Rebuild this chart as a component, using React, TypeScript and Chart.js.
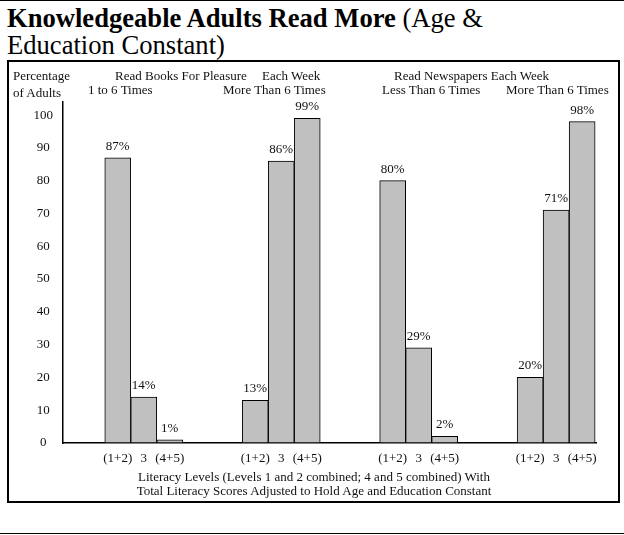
import { useEffect, useRef } from 'react';
import { Chart, registerables } from 'chart.js';

Chart.register(...registerables);

// Reading-frequency groups (x positions 0..3)
const groups = [
  'Books 1 to 6 Times',
  'Books More Than 6 Times',
  'Newspapers Less Than 6 Times',
  'Newspapers More Than 6 Times',
];
// Literacy level labels, one bar per level in each group
const levels = ['(1+2)', '3', '(4+5)'];
// Percentage of adults per level
const level12 = [87, 13, 80, 20];
const level3 = [14, 86, 29, 71];
const level45 = [1, 99, 2, 98];
const yTicks = [0, 10, 20, 30, 40, 50, 60, 70, 80, 90, 100];

const SERIF = '"Liberation Serif", "Times New Roman", Times, serif';
const INK = '#111';
const BAR_FILL = '#c0c0c0';

const seriesByLevel = [level12, level3, level45];

// Draws the value above each bar and the level name beneath it
const barLabels = {
  id: 'barLabels',
  afterDatasetsDraw(chart: any) {
    const ctx = chart.ctx;
    const bottom = chart.chartArea.bottom;
    ctx.save();
    ctx.font = `13px ${SERIF}`;
    ctx.fillStyle = INK;
    ctx.textAlign = 'center';
    ctx.textBaseline = 'alphabetic';
    chart.data.datasets.forEach((ds: any, di: number) => {
      const meta = chart.getDatasetMeta(di);
      meta.data.forEach((bar: any, i: number) => {
        const v = ds.data[i].y;
        ctx.fillText(`${v}%`, bar.x, bar.y - 8);
        ctx.fillText(levels[di], bar.x, bottom + 19);
      });
    });
    ctx.restore();
  },
};

const textStyle = (left: number, top: number): React.CSSProperties => ({
  position: 'absolute',
  left,
  top,
  fontFamily: SERIF,
  fontSize: 13,
  lineHeight: '13px',
  color: INK,
  whiteSpace: 'nowrap',
});

export default function App() {
  const canvasRef = useRef<HTMLCanvasElement>(null);

  useEffect(() => {
    const canvas = canvasRef.current;
    if (!canvas) return;
    const chart = new Chart(canvas, {
      type: 'bar',
      data: {
        labels: groups,
        datasets: seriesByLevel.map((values, li) => ({
          label: levels[li],
          data: values.map((v, i) => ({ x: i, y: v })),
          backgroundColor: BAR_FILL,
          borderColor: '#000',
          borderWidth: 1,
          borderSkipped: false,
          barThickness: 26,
        })),
      },
      options: {
        responsive: false,
        animation: false,
        events: [],
        layout: { padding: { top: 39, bottom: 58, left: 0, right: 21 } },
        plugins: {
          legend: { display: false },
          tooltip: { enabled: false },
          title: { display: false },
        },
        scales: {
          x: {
            type: 'linear',
            min: -0.5876,
            max: 3.29,
            offset: false,
            ticks: { display: false },
            grid: { display: false, drawTicks: false },
            border: { display: true, color: '#000', width: 1.5 },
          },
          y: {
            type: 'linear',
            min: 0,
            max: 104,
            afterBuildTicks: (scale: any) => {
              scale.ticks = yTicks.map((v) => ({ value: v }));
            },
            afterFit: (scale: any) => {
              scale.width = 54;
            },
            ticks: {
              font: { family: SERIF, size: 13 },
              color: INK,
              crossAlign: 'center',
              padding: 10,
            },
            grid: { display: false, drawTicks: false },
            border: { display: true, color: '#000', width: 1.5 },
          },
        },
      },
      plugins: [barLabels],
    } as any);
    return () => chart.destroy();
  }, []);

  return (
    <div
      style={{
        position: 'absolute',
        left: 0,
        top: 0,
        width: 624,
        height: 535,
        background: '#fff',
        overflow: 'hidden',
      }}
    >
      {/* rule above the title */}
      <div style={{ position: 'absolute', left: 0, top: 0, width: 624, height: 1, background: '#000' }} />
      <div
        style={{
          position: 'absolute',
          left: 7,
          top: 5,
          fontFamily: SERIF,
          fontSize: 26.6,
          lineHeight: '27px',
          color: '#000',
          whiteSpace: 'nowrap',
        }}
      >
        <b>Knowledgeable Adults Read More</b> (Age &amp;
        <br />
        Education Constant)
      </div>

      {/* framed chart panel */}
      <div
        style={{
          position: 'absolute',
          left: 7,
          top: 60,
          width: 613,
          height: 443,
          border: '2px solid #000',
          boxSizing: 'border-box',
        }}
      />
      <canvas
        ref={canvasRef}
        width={608}
        height={438}
        style={{ position: 'absolute', left: 9, top: 63, width: 608, height: 438 }}
      />

      <div style={textStyle(13, 69)}>Percentage</div>
      <div style={textStyle(13, 86)}>of Adults</div>
      <div style={textStyle(115, 69)}>Read Books For Pleasure</div>
      <div style={textStyle(262, 69)}>Each Week</div>
      <div style={textStyle(394, 69)}>Read Newspapers Each Week</div>
      <div style={textStyle(88, 83)}>1 to 6 Times</div>
      <div style={textStyle(223, 83)}>More Than 6 Times</div>
      <div style={textStyle(382, 83)}>Less Than 6 Times</div>
      <div style={textStyle(506, 83)}>More Than 6 Times</div>

      <div
        style={{
          position: 'absolute',
          left: 0,
          top: 470,
          width: 628,
          textAlign: 'center',
          fontFamily: SERIF,
          fontSize: 13,
          lineHeight: '14px',
          color: INK,
        }}
      >
        Literacy Levels (Levels 1 and 2 combined; 4 and 5 combined) With
        <br />
        Total Literacy Scores Adjusted to Hold Age and Education Constant
      </div>

      {/* rule below the panel */}
      <div style={{ position: 'absolute', left: 0, top: 533, width: 624, height: 1, background: '#000' }} />
    </div>
  );
}
